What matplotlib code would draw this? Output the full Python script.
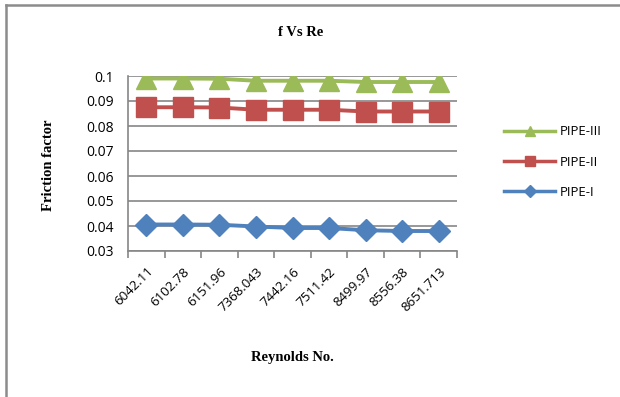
import matplotlib.pyplot as plt
from matplotlib.lines import Line2D

reynolds = ['6042.11', '6102.78', '6151.96', '7368.043', '7442.16',
            '7511.42', '8499.97', '8556.38', '8651.713']
pipe_1 = [0.0406, 0.0406, 0.0405, 0.0398, 0.0392, 0.0392, 0.0383, 0.0380, 0.0380]
pipe_2 = [0.0875, 0.0875, 0.0874, 0.0865, 0.0865, 0.0865, 0.0858, 0.0858, 0.0858]
pipe_3 = [0.0990, 0.0990, 0.0989, 0.0981, 0.0981, 0.0981, 0.0976, 0.0976, 0.0976]

blue = '#4F81BD'
red = '#C0504D'
green = '#9BBB59'
grid_gray = '#868686'

fig = plt.figure(figsize=(6.2, 3.97), dpi=100)
ax = fig.add_axes([128 / 620, 146 / 397, 329 / 620, 175 / 397])

x = range(len(reynolds))
ax.plot(x, pipe_1, color=blue, lw=2.8, marker='D', ms=11, label='PIPE-I')
ax.plot(x, pipe_2, color=red, lw=2.8, marker='s', ms=14, label='PIPE-II')
ax.plot(x, pipe_3, color=green, lw=2.8, marker='^', ms=14, label='PIPE-III')

ax.set_xlim(-0.5, len(reynolds) - 0.5)
ax.set_ylim(0.03, 0.1)
ax.set_yticks([0.03, 0.04, 0.05, 0.06, 0.07, 0.08, 0.09, 0.1])
ax.set_yticklabels(['0.03', '0.04', '0.05', '0.06', '0.07', '0.08', '0.09', '0.1'],
                   fontsize=10, family='Open Sans')
ax.yaxis.grid(True, color=grid_gray, lw=1.2)
ax.set_axisbelow(True)
ax.tick_params(axis='y', length=0, pad=10)

# category labels sit between the boundary ticks
ax.set_xticks([i - 0.5 for i in range(len(reynolds) + 1)])
ax.set_xticklabels([])
ax.set_xticks(list(x), minor=True)
ax.set_xticklabels(reynolds, minor=True, rotation=45, ha='right',
                   rotation_mode='anchor', fontsize=9.5, family='Open Sans')
ax.tick_params(axis='x', which='major', direction='out', length=5,
               color=grid_gray, width=1.2)
ax.tick_params(axis='x', which='minor', length=0, pad=10)

for side in ['top', 'right']:
    ax.spines[side].set_visible(False)
for side in ['left', 'bottom']:
    ax.spines[side].set_color(grid_gray)
    ax.spines[side].set_linewidth(1.2)

fig.text(301 / 620, 1 - 33 / 397, 'f Vs Re', ha='center', va='center',
         fontsize=10.5, fontweight='bold', family='Liberation Serif')
fig.text(48 / 620, 1 - 165 / 397, 'Friction factor', ha='center', va='center',
         rotation=90, fontsize=10.5, fontweight='bold', family='Liberation Serif')
fig.text(292 / 620, 1 - 357 / 397, 'Reynolds No.', ha='center', va='center',
         fontsize=10.5, fontweight='bold', family='Liberation Serif')

handles = [
    Line2D([], [], color=green, lw=2.5, marker='^', ms=7),
    Line2D([], [], color=red, lw=2.5, marker='s', ms=7),
    Line2D([], [], color=blue, lw=2.5, marker='D', ms=6),
]
fig.legend(handles, ['PIPE-III', 'PIPE-II', 'PIPE-I'], loc='center left',
           bbox_to_anchor=(492 / 620, 1 - 162 / 397), frameon=False,
           handlelength=3.9, labelspacing=1.3, handletextpad=0.3,
           prop={'family': 'Open Sans', 'size': 9.5})

# outer chart border
fig.add_artist(Line2D([6 / 620, 6 / 620], [0, 1 - 5 / 397], transform=fig.transFigure,
                      color='#8C8C8C', lw=1.8))
fig.add_artist(Line2D([6 / 620, 1], [1 - 5 / 397, 1 - 5 / 397], transform=fig.transFigure,
                      color='#8C8C8C', lw=1.8))

fig.savefig('out.png', dpi=100)
